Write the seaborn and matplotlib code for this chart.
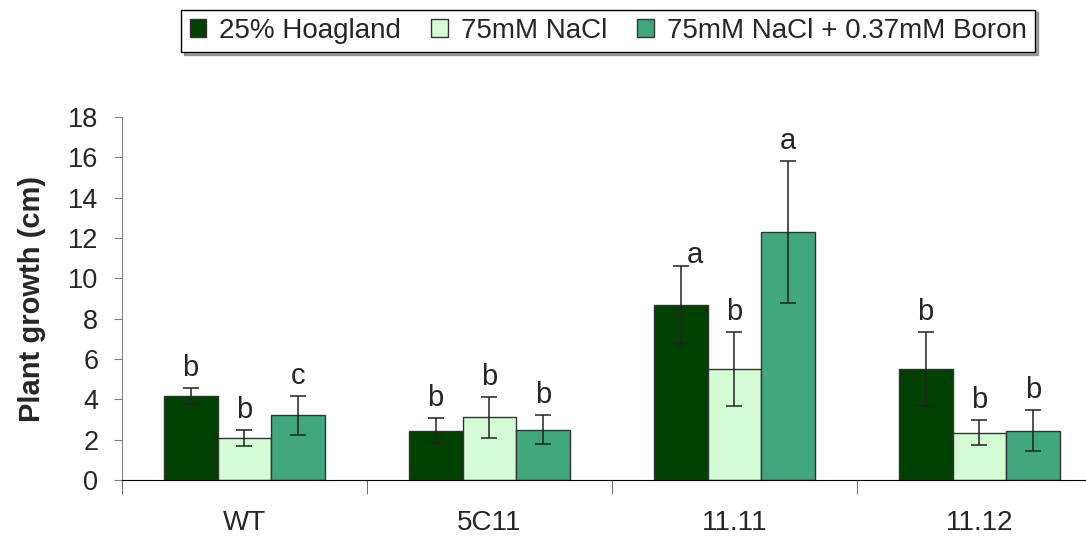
import pandas as pd
import matplotlib
matplotlib.use('Agg')
import matplotlib.pyplot as plt
import seaborn as sns

# 데이터
lines = ['WT', '5C11', '11.11', '11.12']
treatments = ['25% Hoagland', '75mM NaCl', '75mM NaCl + 0.37mM Boron']
hoagland = [4.15, 2.45, 8.7, 5.5]
nacl = [2.1, 3.1, 5.5, 2.35]
boron = [3.2, 2.5, 12.3, 2.45]
hoagland_err = [0.4, 0.62, 1.9, 1.85]
nacl_err = [0.4, 1.02, 1.85, 0.62]
boron_err = [0.95, 0.7, 3.5, 1.0]
hoagland_sig = ['b', 'b', 'a', 'b']
nacl_sig = ['b', 'b', 'b', 'b']
boron_sig = ['c', 'b', 'a', 'b']

colors = ['#004000', '#d4fcd4', '#3fa77b']

df = pd.DataFrame({
    'Line': lines * 3,
    'Treatment': [t for t in treatments for _ in lines],
    'Growth': hoagland + nacl + boron,
})
errs = [hoagland_err, nacl_err, boron_err]
sigs = [hoagland_sig, nacl_sig, boron_sig]

sns.set_style('white')
plt.rcParams['font.family'] = ['Liberation Sans', 'DejaVu Sans']

fig = plt.figure(figsize=(10.86, 5.38), dpi=100)
ax = fig.add_axes([0.1123, 0.1078, 0.9024, 0.6747])

sns.barplot(data=df, x='Line', y='Growth', hue='Treatment', order=lines,
            hue_order=treatments, palette=colors, saturation=1, width=0.66, gap=0,
            edgecolor='#333333', linewidth=1, errorbar=None, legend=False, ax=ax)

for bars, err, sig in zip(ax.containers, errs, sigs):
    for patch, e, s in zip(bars, err, sig):
        xc = patch.get_x() + patch.get_width() / 2
        h = patch.get_height()
        ax.errorbar(xc, h, yerr=e, color='#222222', lw=1.1, capsize=6, capthick=1.1)
        dx, dy = 0, 0.3
        if s == 'a' and h < 10:
            dx, dy = 0.06, -0.15
        ax.text(xc + dx, h + e + dy, s, ha='center', va='bottom', fontsize=21)

ax.set_xlim(-0.5, 3.5)
ax.set_ylim(0, 18)
ax.set_yticks(range(0, 19, 2))
ax.set_xlabel('')
ax.set_ylabel('Plant growth (cm)', fontsize=21, fontweight='bold', labelpad=16)

for side in ['top', 'right']:
    ax.spines[side].set_visible(False)
ax.spines['left'].set_color('#808080')
ax.spines['bottom'].set_color('black')
ax.tick_params(axis='y', left=True, length=6, color='#808080', labelsize=19.5, pad=11)
ax.tick_params(axis='x', bottom=False, labelsize=20, pad=18)
ax.set_xticks([-0.5, 0.5, 1.5, 2.5, 3.5], minor=True)
ax.tick_params(axis='x', which='minor', bottom=True, length=10, color='#555555', direction='out')

handles = [plt.Rectangle((0, 0), 1, 1, facecolor=c, edgecolor='#333333') for c in colors]
leg = fig.legend(handles, treatments, loc='upper center', bbox_to_anchor=(0.56, 0.982),
                 ncol=3, fontsize=20, frameon=True, fancybox=False, shadow=True,
                 handlelength=0.6, handleheight=0.6, handletextpad=0.45, columnspacing=1.1,
                 borderpad=0.3, borderaxespad=0)
leg.get_frame().set_edgecolor('black')
leg.get_frame().set_linewidth(1)

fig.savefig('out.png', dpi=100)
